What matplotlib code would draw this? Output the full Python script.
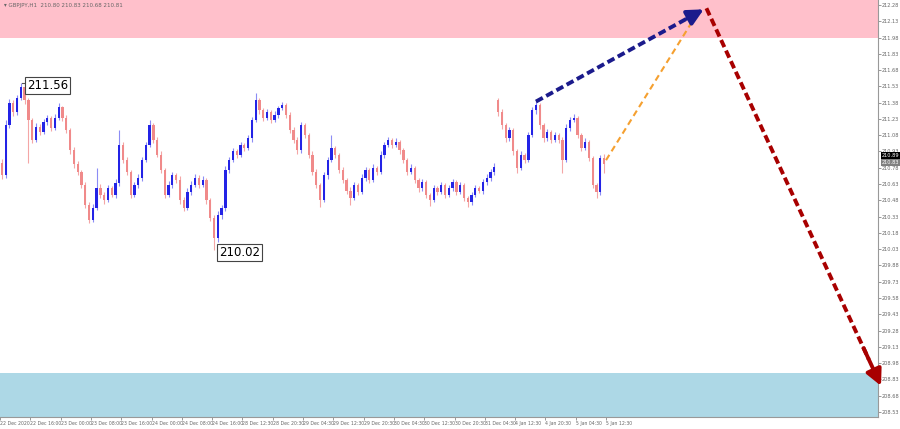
import numpy as np
import matplotlib
matplotlib.use("Agg")
import matplotlib.pyplot as plt

# ---- hourly candles (price) ----
opens = [210.82, 210.71, 211.17, 211.38, 211.29, 211.42, 211.52, 211.40, 211.22, 211.04,
         211.16, 211.11, 211.20, 211.24, 211.15, 211.24, 211.34, 211.24, 211.13, 210.94,
         210.81, 210.74, 210.62, 210.44, 210.30, 210.41, 210.59, 210.53, 210.48, 210.59,
         210.53, 210.64, 210.99, 210.85, 210.74, 210.53, 210.62, 210.69, 210.85, 210.99,
         211.17, 211.04, 210.90, 210.76, 210.53, 210.62, 210.71, 210.67, 210.48, 210.41,
         210.56, 210.62, 210.69, 210.62, 210.67, 210.48, 210.32, 210.13, 210.34, 210.41,
         210.76, 210.85, 210.93, 210.90, 210.99, 210.96, 211.05, 211.22, 211.40, 211.31,
         211.24, 211.29, 211.22, 211.27, 211.33, 211.36, 211.27, 211.13, 211.04, 210.94,
         211.17, 211.08, 210.90, 210.74, 210.62, 210.48, 210.71, 210.85, 210.96, 210.90,
         210.76, 210.67, 210.57, 210.50, 210.62, 210.56, 210.69, 210.76, 210.67, 210.78,
         210.74, 210.90, 210.99, 211.04, 210.99, 211.02, 210.94, 210.85, 210.74, 210.78,
         210.67, 210.59, 210.65, 210.53, 210.48, 210.59, 210.56, 210.62, 210.53, 210.59,
         210.65, 210.56, 210.62, 210.50, 210.46, 210.53, 210.59, 210.57, 210.65, 210.69,
         210.74, 211.40, 211.29, 211.17, 211.05, 211.13, 210.93, 210.78, 210.90, 210.85,
         211.08, 211.31, 211.36, 211.17, 211.05, 211.11, 211.04, 211.08, 211.04, 210.85,
         211.15, 211.22, 211.24, 211.08, 210.96, 211.02, 210.87, 210.62, 210.56, 210.87]
highs = [210.86, 211.22, 211.41, 211.40, 211.45, 211.56, 211.54, 211.42, 211.24, 211.19,
         211.18, 211.23, 211.27, 211.26, 211.28, 211.38, 211.35, 211.27, 211.15, 210.97,
         210.84, 210.76, 210.65, 210.46, 210.45, 210.78, 210.63, 210.56, 210.62, 210.61,
         210.68, 211.13, 211.02, 210.88, 210.76, 210.65, 210.72, 210.88, 211.02, 211.22,
         211.19, 211.06, 210.93, 210.78, 210.66, 210.74, 210.73, 210.70, 210.51, 210.59,
         210.66, 210.72, 210.71, 210.70, 210.69, 210.50, 210.34, 210.38, 210.44, 210.80,
         210.88, 210.96, 210.95, 211.02, 211.01, 211.08, 211.25, 211.47, 211.42, 211.33,
         211.32, 211.31, 211.30, 211.35, 211.39, 211.38, 211.29, 211.16, 211.06, 211.20,
         211.19, 211.10, 210.93, 210.77, 210.64, 210.74, 210.88, 211.08, 210.98, 210.92,
         210.79, 210.69, 210.60, 210.65, 210.64, 210.72, 210.79, 210.78, 210.81, 210.80,
         210.93, 211.02, 211.06, 211.05, 211.05, 211.04, 210.96, 210.87, 210.81, 210.80,
         210.69, 210.68, 210.67, 210.55, 210.62, 210.61, 210.65, 210.64, 210.62, 210.68,
         210.67, 210.65, 210.64, 210.52, 210.56, 210.62, 210.61, 210.68, 210.72, 210.77,
         210.82, 211.42, 211.32, 211.19, 211.16, 211.15, 210.95, 210.93, 210.92, 211.11,
         211.34, 211.40, 211.38, 211.19, 211.14, 211.13, 211.11, 211.10, 211.06, 211.18,
         211.25, 211.28, 211.26, 211.10, 211.05, 211.04, 210.89, 210.64, 210.90, 210.91]
lows = [210.68, 210.69, 211.15, 211.26, 211.27, 211.40, 211.37, 210.82, 211.01, 211.02,
        211.08, 211.09, 211.17, 211.12, 211.13, 211.22, 211.21, 211.10, 210.91, 210.78,
        210.71, 210.59, 210.41, 210.27, 210.28, 210.39, 210.50, 210.45, 210.46, 210.51,
        210.50, 210.61, 210.82, 210.71, 210.50, 210.51, 210.59, 210.66, 210.83, 210.97,
        211.01, 210.88, 210.73, 210.50, 210.51, 210.59, 210.64, 210.45, 210.38, 210.39,
        210.53, 210.60, 210.59, 210.60, 210.45, 210.29, 210.02, 210.10, 210.31, 210.38,
        210.73, 210.83, 210.87, 210.88, 210.93, 210.94, 211.02, 211.20, 211.28, 211.21,
        211.22, 211.19, 211.20, 211.24, 211.31, 211.24, 211.10, 211.01, 210.91, 210.92,
        211.05, 210.87, 210.71, 210.59, 210.42, 210.46, 210.68, 210.83, 210.87, 210.73,
        210.64, 210.54, 210.44, 210.48, 210.53, 210.54, 210.66, 210.64, 210.65, 210.71,
        210.72, 210.87, 210.97, 210.96, 210.97, 210.91, 210.82, 210.71, 210.72, 210.64,
        210.56, 210.57, 210.50, 210.43, 210.46, 210.53, 210.54, 210.50, 210.51, 210.57,
        210.53, 210.54, 210.47, 210.42, 210.44, 210.51, 210.55, 210.54, 210.62, 210.66,
        210.71, 211.26, 211.14, 211.02, 211.03, 210.90, 210.73, 210.76, 210.82, 210.83,
        211.06, 211.28, 211.14, 211.02, 211.03, 211.01, 211.02, 211.01, 210.73, 210.83,
        211.12, 211.20, 211.05, 210.93, 210.94, 210.84, 210.59, 210.50, 210.53, 210.73]
closes = [210.71, 211.17, 211.38, 211.29, 211.42, 211.52, 211.40, 211.22, 211.04, 211.16,
          211.11, 211.20, 211.24, 211.15, 211.24, 211.34, 211.24, 211.13, 210.94, 210.81,
          210.74, 210.62, 210.44, 210.30, 210.41, 210.59, 210.53, 210.48, 210.59, 210.53,
          210.64, 210.99, 210.85, 210.74, 210.53, 210.62, 210.69, 210.85, 210.99, 211.17,
          211.04, 210.90, 210.76, 210.53, 210.62, 210.71, 210.67, 210.48, 210.41, 210.56,
          210.62, 210.69, 210.62, 210.67, 210.48, 210.32, 210.13, 210.34, 210.41, 210.76,
          210.85, 210.93, 210.90, 210.99, 210.96, 211.05, 211.22, 211.40, 211.31, 211.24,
          211.29, 211.22, 211.27, 211.33, 211.36, 211.27, 211.13, 211.04, 210.94, 211.17,
          211.08, 210.90, 210.74, 210.62, 210.48, 210.71, 210.85, 210.96, 210.90, 210.76,
          210.67, 210.57, 210.50, 210.62, 210.56, 210.69, 210.76, 210.67, 210.78, 210.74,
          210.90, 210.99, 211.04, 210.99, 211.02, 210.94, 210.85, 210.74, 210.78, 210.67,
          210.59, 210.65, 210.53, 210.48, 210.59, 210.56, 210.62, 210.53, 210.59, 210.65,
          210.56, 210.62, 210.50, 210.46, 210.53, 210.59, 210.57, 210.65, 210.69, 210.74,
          210.79, 211.29, 211.17, 211.05, 211.13, 210.93, 210.78, 210.90, 210.85, 211.08,
          211.31, 211.36, 211.17, 211.05, 211.11, 211.04, 211.08, 211.04, 210.85, 211.15,
          211.22, 211.24, 211.08, 210.96, 211.02, 210.87, 210.62, 210.56, 210.87, 210.81]

time_labels = ["22 Dec 2020", "22 Dec 16:00", "23 Dec 00:00", "23 Dec 08:00", "23 Dec 16:00",
               "24 Dec 00:00", "24 Dec 08:00", "24 Dec 16:00", "28 Dec 12:30", "28 Dec 20:30",
               "29 Dec 04:30", "29 Dec 12:30", "29 Dec 20:30", "30 Dec 04:30", "30 Dec 12:30",
               "30 Dec 20:30", "31 Dec 04:30", "4 Jan 12:30", "4 Jan 20:30", "5 Jan 04:30",
               "5 Jan 12:30"]
price_ticks = [208.53, 208.68, 208.83, 208.98, 209.13, 209.28, 209.43, 209.58, 209.73,
               209.88, 210.03, 210.18, 210.33, 210.48, 210.63, 210.78, 210.93, 211.08,
               211.23, 211.38, 211.53, 211.68, 211.83, 211.98, 212.13, 212.28]

resistance_zone = (211.98, 212.40)
support_zone = (208.30, 208.89)
hi_mark = (5, 211.56)
lo_mark = (56, 210.02)

# forecast arrows: (bar, price)
blue_path = [(141, 211.39), (185.3, 212.24)]
orange_path = [(159.5, 210.85), (183.9, 212.22)]
red_path = [(186.0, 212.25), (232.1, 208.77)]


def arrow(ax, p0, p1, color, lw, dashes, head=True):
    (x0, y0), (x1, y1) = p0, p1
    f = 0.93 if head else 1.0
    ax.plot([x0, x0 + (x1 - x0) * f], [y0, y0 + (y1 - y0) * f], color=color, lw=lw,
            dashes=dashes, solid_capstyle="butt", dash_capstyle="butt", clip_on=False, zorder=5)
    if head:
        g = 0.90
        ax.annotate("", xy=(x1, y1), xytext=(x0 + (x1 - x0) * g, y0 + (y1 - y0) * g),
                    arrowprops=dict(arrowstyle="-|>", color=color, lw=lw, mutation_scale=24,
                                    shrinkA=0, shrinkB=0),
                    annotation_clip=False, zorder=6)


def main():
    o, h, l, c = map(np.array, (opens, highs, lows, closes))
    x = np.arange(len(c))
    up = c >= o

    fig = plt.figure(figsize=(9, 4.29), dpi=100)
    ax = fig.add_axes([0, 12 / 429, 878 / 900, 417 / 429])

    ax.axhspan(*resistance_zone, color="#ffc0cb", lw=0, zorder=0)
    ax.axhspan(*support_zone, color="#add8e6", lw=0, zorder=0)

    # wicks then bodies
    ax.vlines(x[up], l[up], h[up], color="#8c8cf5", lw=0.8, zorder=2)
    ax.vlines(x[~up], l[~up], h[~up], color="#f4a6a6", lw=0.8, zorder=2)
    body = np.maximum(np.abs(c - o), 0.008)
    ax.bar(x[up], body[up], bottom=np.minimum(o, c)[up], width=0.6, color="#2323e6", lw=0, zorder=3)
    ax.bar(x[~up], body[~up], bottom=np.minimum(o, c)[~up], width=0.6, color="#f08a8a", lw=0, zorder=3)

    # high / low marks
    ax.plot([hi_mark[0] + 0.2, hi_mark[0] + 1.3], [hi_mark[1], hi_mark[1]], color="#555", lw=0.8)
    ax.text(hi_mark[0] + 1.6, hi_mark[1] - 0.02, f"{hi_mark[1]:.2f}", fontsize=8.5, va="center",
            ha="left", bbox=dict(boxstyle="square,pad=0.15", fc="white", ec="#444", lw=0.8), zorder=7)
    ax.text(lo_mark[0] + 1.3, lo_mark[1] - 0.02, f"{lo_mark[1]:.2f}", fontsize=8.5, va="center",
            ha="left", bbox=dict(boxstyle="square,pad=0.15", fc="white", ec="#444", lw=0.8), zorder=7)

    arrow(ax, *blue_path, color="#1b1b8c", lw=2.8, dashes=(2.0, 1.0))
    arrow(ax, *orange_path, color="#f5a030", lw=1.5, dashes=(3.0, 2.0), head=False)
    arrow(ax, *red_path, color="#a80000", lw=2.8, dashes=(2.0, 1.0))

    ax.set_xlim(-0.5, 231.3)
    ax.set_ylim(208.483, 212.326)

    ax.set_xticks([8 * k - 0.5 for k in range(len(time_labels))])
    ax.set_xticklabels(time_labels, ha="left")
    ax.tick_params(axis="x", length=2, width=0.6, labelsize=3.3, labelcolor="#666", color="#888", pad=1)

    ax.yaxis.tick_right()
    ax.set_yticks(price_ticks)
    ax.set_yticklabels([f"{t:.2f}" for t in price_ticks])
    ax.tick_params(axis="y", length=2, width=0.6, labelsize=3.6, labelcolor="#666", color="#888", pad=1)

    for s in ("top", "left"):
        ax.spines[s].set_visible(False)
    for s in ("right", "bottom"):
        ax.spines[s].set_color("#999")
        ax.spines[s].set_linewidth(0.8)

    # current price tags on the scale
    ax.text(1.004, 210.89, "210.89", transform=ax.get_yaxis_transform(), fontsize=3.6, color="white",
            va="center", ha="left", bbox=dict(boxstyle="square,pad=0.2", fc="black", ec="none"), zorder=8)
    ax.text(1.004, 210.83, "210.83", transform=ax.get_yaxis_transform(), fontsize=3.6, color="white",
            va="center", ha="left", bbox=dict(boxstyle="square,pad=0.2", fc="#808080", ec="none"), zorder=8)

    fig.text(0.004, 0.992, "\u25be GBPJPY,H1  210.80 210.83 210.68 210.81", fontsize=4,
             color="#666", va="top", ha="left")

    fig.savefig("out.png", dpi=100)


if __name__ == "__main__":
    main()
